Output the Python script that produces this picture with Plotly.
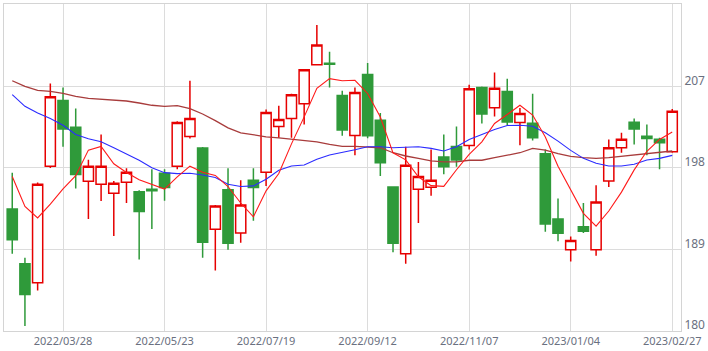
import plotly.graph_objects as go

dates = ["2022/02/28","2022/03/07","2022/03/14","2022/03/22","2022/03/28","2022/04/04","2022/04/11","2022/04/18",
         "2022/04/25","2022/05/02","2022/05/09","2022/05/16","2022/05/23","2022/05/30","2022/06/06","2022/06/13",
         "2022/06/20","2022/06/27","2022/07/04","2022/07/11","2022/07/19","2022/07/25","2022/08/01","2022/08/08",
         "2022/08/15","2022/08/22","2022/08/29","2022/09/05","2022/09/12","2022/09/20","2022/09/26","2022/10/03",
         "2022/10/11","2022/10/17","2022/10/24","2022/10/31","2022/11/07","2022/11/14","2022/11/21","2022/11/28",
         "2022/12/05","2022/12/12","2022/12/19","2022/12/26","2023/01/04","2023/01/10","2023/01/16","2023/01/23",
         "2023/01/30","2023/02/06","2023/02/13","2023/02/20","2023/02/27"]

opens = [193.47,187.43,185.34,198.19,205.46,202.50,196.54,196.21,195.22,196.43,195.37,195.66,197.42,
         198.19,201.48,200.20,191.23,195.59,190.83,196.65,197.53,202.58,203.46,205.10,209.38,209.56,206.01,
         201.59,208.32,203.27,195.91,188.53,195.66,195.88,199.21,200.38,200.49,206.89,204.66,206.45,
         203.02,202.94,199.57,192.37,188.97,191.52,188.97,196.57,200.23,203.05,201.51,201.18,199.79]
highs = [197.48,188.09,196.39,207.33,206.89,204.55,198.91,201.70,196.57,197.97,195.55,197.86,197.86,
         203.16,207.63,200.31,193.91,197.97,196.65,197.97,204.44,204.88,206.20,208.83,213.77,210.84,206.53,
         206.89,209.60,204.07,195.91,200.34,198.66,200.05,201.70,202.58,207.19,207.00,208.54,207.85,
         204.62,206.20,200.05,194.63,190.43,194.13,196.10,201.15,201.88,203.46,202.80,201.33,204.51]
lows = [188.53,180.55,184.47,198.00,200.34,195.73,192.37,194.34,190.50,194.12,187.90,191.27,194.38,
        197.86,201.26,188.09,186.69,188.97,189.73,192.18,196.02,201.33,201.33,202.80,209.38,206.89,201.55,
        199.39,201.29,197.12,188.70,187.43,191.93,194.93,197.31,198.14,200.05,202.91,203.68,202.72,
        200.52,201.04,190.97,189.91,187.68,190.83,188.31,195.91,199.68,200.60,199.39,197.86,199.68]
closes = [190.06,184.03,196.21,205.87,202.31,197.27,198.19,198.19,196.32,197.53,193.20,195.48,195.84,
          203.01,203.46,189.80,193.80,189.69,193.91,195.84,204.11,203.35,206.09,208.83,211.58,209.45,202.20,
          206.34,201.55,198.58,189.69,198.30,197.05,196.65,198.14,198.88,206.75,203.96,206.81,203.08,
          204.00,201.33,191.82,190.79,189.99,191.01,194.23,200.23,201.18,202.31,201.26,200.78,204.26]

ma_short = [197.05,193.76,192.48,194.01,195.70,197.14,199.97,200.37,198.46,197.50,196.69,196.14,195.67,
            197.01,198.20,197.52,197.18,195.95,194.13,192.61,195.47,197.38,200.66,203.64,206.79,207.86,207.63,
            207.68,206.22,203.62,199.67,198.89,197.03,196.05,195.97,197.80,199.49,200.88,202.91,203.90,
            204.92,203.84,201.41,198.20,195.59,192.99,191.57,193.25,195.33,197.79,199.84,201.15,201.96]
ma_mid = [206.09,204.80,204.07,203.46,202.72,201.70,201.22,200.89,200.23,199.57,198.85,198.03,197.48,
          197.37,197.42,197.23,196.94,196.21,195.95,196.02,196.76,197.75,198.22,198.33,198.95,199.43,199.68,
          200.01,200.34,200.34,200.23,200.30,200.34,200.16,199.87,200.34,201.15,201.70,202.25,202.69,
          202.72,202.61,201.88,200.96,199.94,199.06,198.52,198.22,198.22,198.41,198.88,199.06,199.39]
ma_long = [207.63,207.00,206.56,206.45,206.23,205.90,205.68,205.57,205.50,205.39,205.17,204.92,204.80,
           204.88,204.55,203.96,203.23,202.42,201.88,201.62,201.44,201.33,201.18,201.04,200.89,200.60,200.38,
           200.38,200.34,200.23,199.68,199.32,199.06,198.77,198.66,198.66,198.85,198.85,199.13,199.39,
           199.68,200.16,199.98,199.57,199.28,199.13,199.06,199.13,199.28,199.39,199.57,199.76,199.87]

tick_dates = ["2022/03/28","2022/05/23","2022/07/19","2022/09/12","2022/11/07","2023/01/04","2023/02/27"]
y_ticks = [180, 189, 198, 207]

RED = "#e60000"
GREEN = "#2f9a3a"

fig = go.Figure()
fig.add_trace(go.Scatter(x=dates, y=ma_long, mode="lines", line=dict(color="#a83c3c", width=1.3), hoverinfo="skip"))
fig.add_trace(go.Scatter(x=dates, y=ma_mid, mode="lines", line=dict(color="#2b2bff", width=1.1), hoverinfo="skip"))
fig.add_trace(go.Candlestick(
    x=dates, open=opens, high=highs, low=lows, close=closes,
    increasing=dict(line=dict(color=RED, width=1.5), fillcolor="white"),
    decreasing=dict(line=dict(color=GREEN, width=1.5), fillcolor=GREEN),
    whiskerwidth=0,
))
fig.add_trace(go.Scatter(x=dates, y=ma_short, mode="lines", line=dict(color="#ff1a1a", width=1.1), hoverinfo="skip"))

fig.update_layout(
    width=708, height=351,
    margin=dict(l=3, r=26, t=3, b=19),
    paper_bgcolor="white", plot_bgcolor="white",
    showlegend=False,
    boxgap=0.2, boxgroupgap=0,
    xaxis=dict(type="category", range=[-0.65, 52.69], rangeslider=dict(visible=False),
               tickmode="array", tickvals=tick_dates, ticktext=tick_dates,
               showgrid=True, gridcolor="#dcdcdc", gridwidth=1,
               showline=True, linecolor="#d4d4d4", mirror=True, ticks="",
               tickfont=dict(family="Noto Sans", size=11, color="#6a7080")),
    yaxis=dict(range=[180, 216.1], side="right", tickmode="array", tickvals=y_ticks,
               showgrid=True, gridcolor="#dcdcdc", gridwidth=1, zeroline=False,
               showline=True, linecolor="#d4d4d4", mirror=True, ticks="",
               ticklabelshift=-6,
               tickfont=dict(family="Noto Sans", size=12, color="#6a7080")),
)

fig.write_html("out.html")
